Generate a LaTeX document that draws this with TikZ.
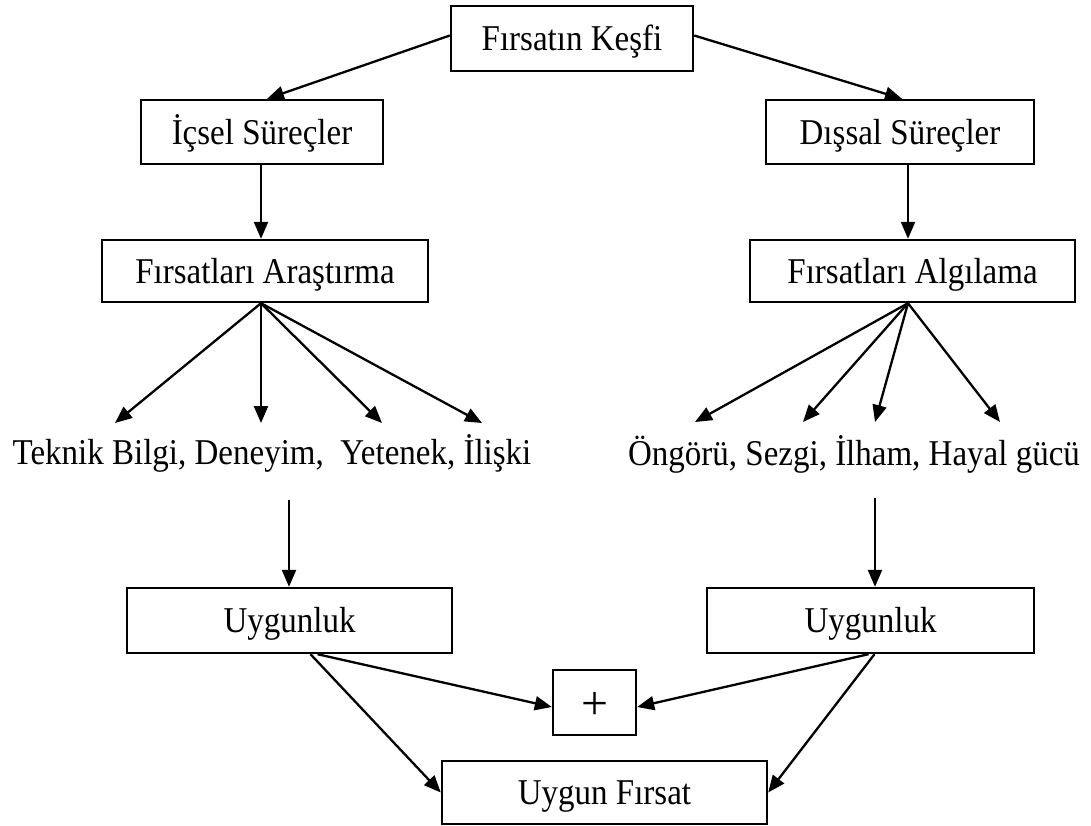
\documentclass[tikz,border=0pt]{standalone}
\usepackage{fontspec}
\usepackage{graphicx}
\setmainfont{Liberation Serif}
\usetikzlibrary{arrows.meta,calc}

% label font: Times-like serif, slightly tall
\newcommand\diagfont{\fontsize{33}{40}\selectfont}
\newcommand\tall[1]{\scalebox{1}[1.1]{#1}}

\begin{document}
\begin{tikzpicture}[x=1pt,y=-1pt,
  box/.style={draw,line width=2.4pt,fill=white,inner sep=0pt,
              text height=24pt,text depth=0pt,font=\diagfont},
  plain/.style={inner sep=0pt,font=\diagfont,anchor=base},
  arr/.style={line width=2.3pt,-{Triangle[length=17pt,width=14pt]}}]

\useasboundingbox (0,0) rectangle (1091,825);

% boxes
\node[box,minimum width=242pt,minimum height=65pt] (kesfi) at (572,38.5) {\tall{Fırsatın Keşfi}};
\node[box,minimum width=242pt,minimum height=64pt] (icsel) at (262,132) {\tall{İçsel Süreçler}};
\node[box,minimum width=268pt,minimum height=64pt] (dissal) at (900,132) {\tall{Dışsal Süreçler}};
\node[box,minimum width=326pt,minimum height=62pt] (arastirma) at (265,271) {\tall{Fırsatları Araştırma}};
\node[box,minimum width=325pt,minimum height=62pt] (algilama) at (912.5,271) {\tall{Fırsatları Algılama}};

% free-standing lists
\node[plain] (sol) at (272,464) {\tall{Teknik Bilgi, Deneyim,\ \ Yetenek, İlişki}};
\node[plain] (sag) at (854,465) {\tall{Öngörü, Sezgi, İlham, Hayal gücü}};

\node[box,minimum width=325pt,minimum height=65pt] (uyg1) at (289.5,620.5) {\tall{Uygunluk}};
\node[box,minimum width=327pt,minimum height=65pt] (uyg2) at (870.5,620.5) {\tall{Uygunluk}};
\node[box,minimum width=83pt,minimum height=65pt] (plus) at (594.5,702.5) {\raisebox{-5pt}{\scalebox{1.45}{+}}};
\node[box,minimum width=325pt,minimum height=63pt] (uf) at (604.5,792.5) {\tall{Uygun Fırsat}};

% fan-out points and arrow ends
\coordinate (fa) at ($(arastirma.south)+(-4,0)$);
\coordinate (fb) at ($(algilama.south)+(-4.5,0)$);
\coordinate (a1) at (115,423);
\coordinate (a2) at (261,423);
\coordinate (a3) at (382,423);
\coordinate (a4) at (482,423);
\coordinate (b1) at (695,422);
\coordinate (b2) at (803,422);
\coordinate (b3) at (875,422);
\coordinate (b4) at (1000,422);
\coordinate (d1) at (289,500);
\coordinate (d2) at (875,498);

% connectors
\draw[arr] ($(kesfi.west)+(0,-3)$) -- ($(icsel.north)+(5,0)$);
\draw[arr] ($(kesfi.east)+(0,-3)$) -- ($(dissal.north)+(2,0)$);
\draw[arr] ($(icsel.south)+(-1,0)$) -- ($(arastirma.north)+(-4,0)$);
\draw[arr] ($(dissal.south)+(8,0)$) -- ($(algilama.north)+(-4.5,0)$);

\foreach \t in {a1,a2,a3,a4} \draw[arr] (fa) -- (\t);
\foreach \t in {b1,b2,b3,b4} \draw[arr] (fb) -- (\t);

\draw[arr] (d1) -- (d1 |- uyg1.north);
\draw[arr] (d2) -- (d2 |- uyg2.north);

\draw[arr] ($(uyg1.south)+(28,0)$) -- ($(plus.west)+(0,4.5)$);
\draw[arr] ($(uyg1.south)+(21,0)$) -- (uf.west);
\draw[arr] ($(uyg2.south)+(-2,0)$) -- ($(plus.east)+(0,4.5)$);
\draw[arr] ($(uyg2.south)+(4,0)$) -- (uf.east);
\end{tikzpicture}
\end{document}
